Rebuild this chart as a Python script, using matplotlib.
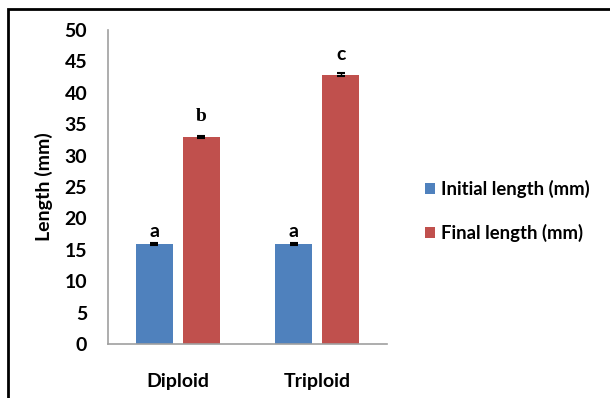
import matplotlib
matplotlib.use("Agg")
import matplotlib.pyplot as plt
import numpy as np
from matplotlib.patches import Rectangle

categories = ["Diploid", "Triploid"]
initial_len = [15.9, 15.9]
final_len = [33.0, 42.9]
initial_err = [0.2, 0.2]
final_err = [0.2, 0.2]
initial_letters = ["a", "a"]
final_letters = ["b", "c"]
series_names = ["Initial length (mm)", "Final length (mm)"]
yticks = [0, 5, 10, 15, 20, 25, 30, 35, 40, 45, 50]

blue = "#4F81BD"
red = "#C0504D"
font = "Lato"
fs = 14

fig = plt.figure(figsize=(6.10, 3.98), dpi=100)
ax = fig.add_axes([108/610, 1-344/398, (387-108)/610, (344-30)/398])

x = np.arange(len(categories))
w = 0.265
off = 0.17
b1 = ax.bar(x - off, initial_len, w, color=blue, label=series_names[0],
            yerr=initial_err, error_kw=dict(ecolor="black", capsize=3, elinewidth=1, capthick=1.5))
b2 = ax.bar(x + off, final_len, w, color=red, label=series_names[1],
            yerr=final_err, error_kw=dict(ecolor="black", capsize=3, elinewidth=1, capthick=1.5))

for xi, v, e, t in zip(x - off, initial_len, initial_err, initial_letters):
    ax.text(xi, v + e + 0.5, t, ha="center", va="bottom", fontsize=14, family=font, fontweight="bold")
for xi, v, e, t in zip(x + off, final_len, final_err, final_letters):
    fam = "Liberation Serif" if t == "b" else font
    ax.text(xi, v + e + 1.6, t, ha="center", va="bottom", fontsize=14, family=fam, fontweight="bold")

ax.set_xlim(-0.5, 1.5)
ax.set_ylim(0, 50)
ax.set_yticks(yticks)
ax.set_xticks(x)
ax.set_xticklabels(categories, family=font, fontweight="bold", fontsize=fs)
for lab in ax.get_yticklabels():
    lab.set_family(font); lab.set_fontweight("bold"); lab.set_fontsize(fs)
ax.tick_params(axis="both", length=0)
ax.tick_params(axis="y", pad=15)
ax.tick_params(axis="x", pad=21)
for s in ["top", "right"]:
    ax.spines[s].set_visible(False)
for s in ["left", "bottom"]:
    ax.spines[s].set_color("#A0A0A0")
    ax.spines[s].set_linewidth(1.2)

ax.set_ylabel("Length (mm)", family=font, fontweight="bold", fontsize=fs, labelpad=8)

leg = fig.legend(handles=[b1, b2], labels=series_names, loc="center left",
                 bbox_to_anchor=(408/610, 1-211/398), frameon=False,
                 prop=dict(family=font, weight="bold", size=13.3),
                 handlelength=0.55, handleheight=0.55, handletextpad=0.35, labelspacing=1.4)

# outer border (left and top edges visible)
fig.patches.append(Rectangle((8/610, -0.05), 1.2, 1 - 9/398 + 0.05, transform=fig.transFigure,
                             fill=False, edgecolor="black", linewidth=2))

fig.savefig("out.png", dpi=100)
